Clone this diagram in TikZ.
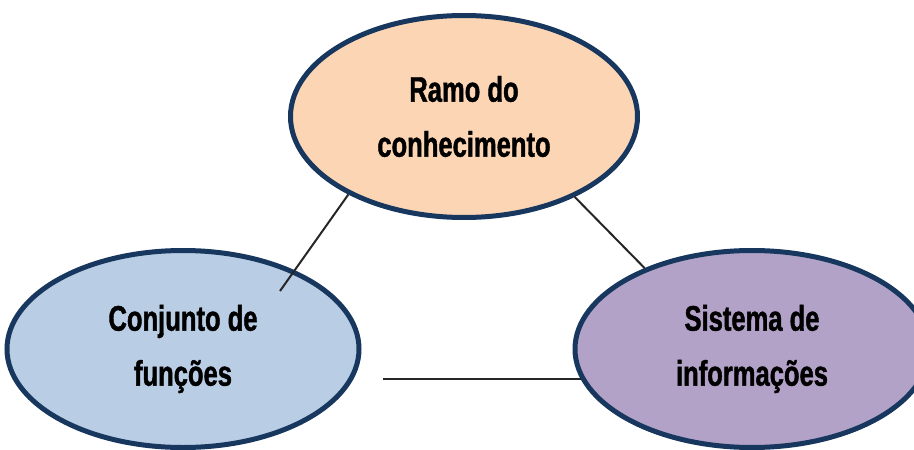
\documentclass[tikz,border=0pt]{standalone}
\usepackage{fontspec}
\setmainfont[FakeStretch=0.72,FakeBold=1.2]{Liberation Sans}
\usetikzlibrary{shapes.geometric}
\definecolor{peach}{HTML}{FCD5B5}
\definecolor{lblue}{HTML}{B9CDE5}
\definecolor{lpurple}{HTML}{B3A2C7}
\definecolor{navy}{HTML}{17375E}
\tikzset{
  bubble/.style={ellipse, draw=navy, line width=5pt, inner sep=0pt, align=center,
    font=\fontsize{35.5}{55}\selectfont\bfseries, text=black},
  link/.style={draw=black!85, line width=2pt}
}
\begin{document}
\begin{tikzpicture}[x=1pt,y=-1pt]
\useasboundingbox (0,0) rectangle (914,450);
\clip (0,0) rectangle (914,450);
\node[bubble, fill=lblue, minimum width=352pt, minimum height=197pt] (left) at (183,349) {\raisebox{-3pt}{Conjunto de}\\\raisebox{-3pt}{funções}};
\coordinate (c1) at (280,291);
\coordinate (h0) at (383,0);
\node[bubble, fill=peach, minimum width=347pt, minimum height=202pt] (top) at (464,116.5) {\raisebox{-3pt}{Ramo do}\\\raisebox{-3pt}{conhecimento}};
\node[bubble, fill=lpurple, minimum width=354pt, minimum height=197pt] (right) at (752,349) {\raisebox{-3pt}{Sistema de}\\\raisebox{-3pt}{informações}};
\coordinate (h1) at (right.190.4 -| h0);
\draw[link] (top.214) -- (c1);
\draw[link] (top.-36) -- (right.143.5);
\draw[link] (h1) -- (right.190.4);
\end{tikzpicture}
\end{document}
